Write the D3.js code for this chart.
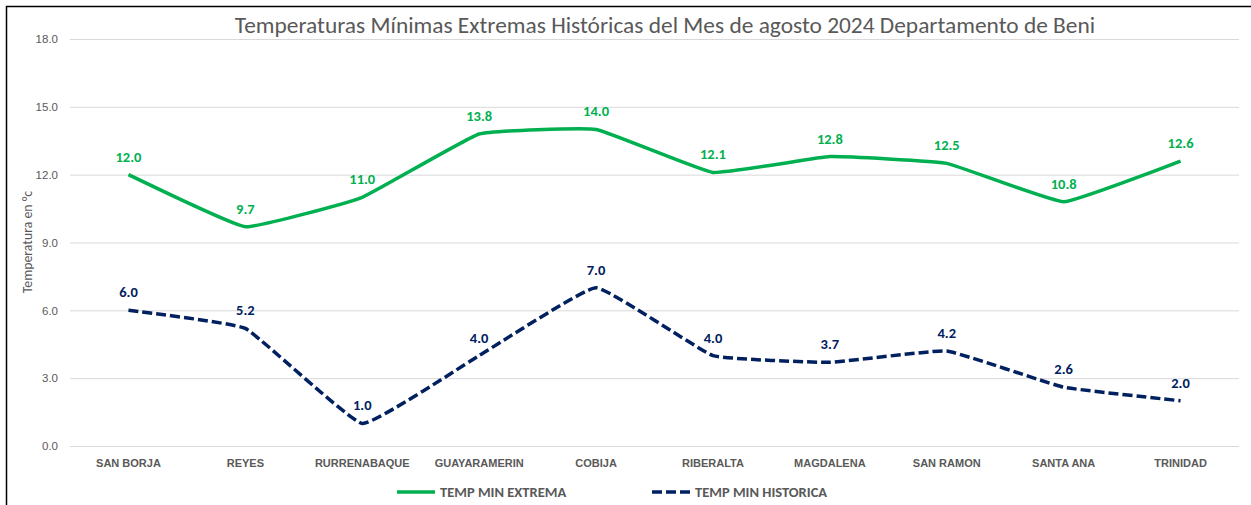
<!DOCTYPE html>
<html>
<head>
<meta charset="utf-8">
<script src="https://cdn.jsdelivr.net/npm/d3@7"></script>
<style>
  body { margin: 0; background: #fff; }
  svg { display: block; font-family: Calibri, Carlito, "Open Sans", "Liberation Sans", sans-serif; }
</style>
</head>
<body>
<div id="chart"></div>
<script>
// datos
const estaciones = ["SAN BORJA", "REYES", "RURRENABAQUE", "GUAYARAMERIN", "COBIJA", "RIBERALTA", "MAGDALENA", "SAN RAMON", "SANTA ANA", "TRINIDAD"];
const tempMinExtrema = [12.0, 9.7, 11.0, 13.8, 14.0, 12.1, 12.8, 12.5, 10.8, 12.6];
const tempMinHistorica = [6.0, 5.2, 1.0, 4.0, 7.0, 4.0, 3.7, 4.2, 2.6, 2.0];
const yTicks = [0, 3, 6, 9, 12, 15, 18];

const width = 1251, height = 505;
const margin = { top: 39, right: 12, bottom: 59, left: 70 };
const grisTexto = "#595959";
const verde = "#00B050", azul = "#002060";

const svg = d3.select("#chart").append("svg")
  .attr("width", width)
  .attr("height", height);

// marco negro (solo izquierda y arriba visibles)
svg.append("path")
  .attr("d", `M6.5,${height} V6.5 H${width}`)
  .attr("fill", "none")
  .attr("stroke", "#000")
  .attr("stroke-width", 1.5);

const x = d3.scaleBand()
  .domain(estaciones)
  .range([margin.left, width - margin.right]);

const y = d3.scaleLinear()
  .domain([0, 18])
  .range([height - margin.bottom, margin.top]);

// titulo
svg.append("text")
  .attr("x", 665)
  .attr("y", 33)
  .attr("text-anchor", "middle")
  .attr("fill", grisTexto)
  .style("font-size", "23.4px")
  .text("Temperaturas Mínimas Extremas Históricas del Mes de agosto 2024 Departamento de Beni");

// grilla y eje Y
const yAxis = svg.append("g")
  .attr("transform", `translate(${margin.left},0)`)
  .call(d3.axisLeft(y).tickValues(yTicks).tickFormat(d3.format(".1f")).tickSize(-(width - margin.left - margin.right)).tickPadding(12));
yAxis.select(".domain").remove();
yAxis.selectAll(".tick line").attr("stroke", "#d9d9d9").attr("stroke-width", 1);
yAxis.selectAll(".tick text").attr("fill", grisTexto).style("font-size", "11.5px");

// eje X
const xAxis = svg.append("g")
  .attr("transform", `translate(0,${height - margin.bottom})`)
  .call(d3.axisBottom(x).tickSize(0).tickPadding(13));
xAxis.select(".domain").remove();
xAxis.selectAll(".tick text").attr("fill", grisTexto).style("font-size", "11px").style("font-weight", "bold");

// etiqueta eje Y
svg.append("text")
  .attr("transform", "translate(32,242) rotate(-90)")
  .attr("text-anchor", "middle")
  .attr("fill", grisTexto)
  .style("font-size", "13.8px")
  .text("Temperatura en °c");

const series = [
  { nombre: "TEMP MIN EXTREMA", valores: tempMinExtrema, color: verde, dash: null },
  { nombre: "TEMP MIN HISTORICA", valores: tempMinHistorica, color: azul, dash: "10,4" }
];

const linea = d3.line()
  .x((d, i) => x(estaciones[i]) + x.bandwidth() / 2)
  .y(d => y(d))
  .curve(d3.curveCardinal.tension(0.7));

series.forEach(s => {
  svg.append("path")
    .datum(s.valores)
    .attr("d", linea)
    .attr("fill", "none")
    .attr("stroke", s.color)
    .attr("stroke-width", 3.5)
    .attr("stroke-dasharray", s.dash);

  svg.append("g").selectAll("text")
    .data(s.valores)
    .join("text")
    .attr("x", (d, i) => x(estaciones[i]) + x.bandwidth() / 2)
    .attr("y", d => y(d) - 13)
    .attr("text-anchor", "middle")
    .attr("fill", s.color)
    .style("font-size", "14.5px")
    .style("font-weight", "bold")
    .text(d => d3.format(".1f")(d));
});

// leyenda
const leyenda = svg.append("g").attr("transform", "translate(0,492)");
const posLeyenda = [397, 652];
series.forEach((s, i) => {
  const g = leyenda.append("g").attr("transform", `translate(${posLeyenda[i]},0)`);
  g.append("line")
    .attr("x1", 0).attr("x2", 38)
    .attr("stroke", s.color)
    .attr("stroke-width", 3.5)
    .attr("stroke-dasharray", s.dash);
  g.append("text")
    .attr("x", 43)
    .attr("dy", "0.35em")
    .attr("fill", grisTexto)
    .style("font-size", "14.5px")
    .style("font-weight", "bold")
    .text(s.nombre);
});
</script>
</body>
</html>
